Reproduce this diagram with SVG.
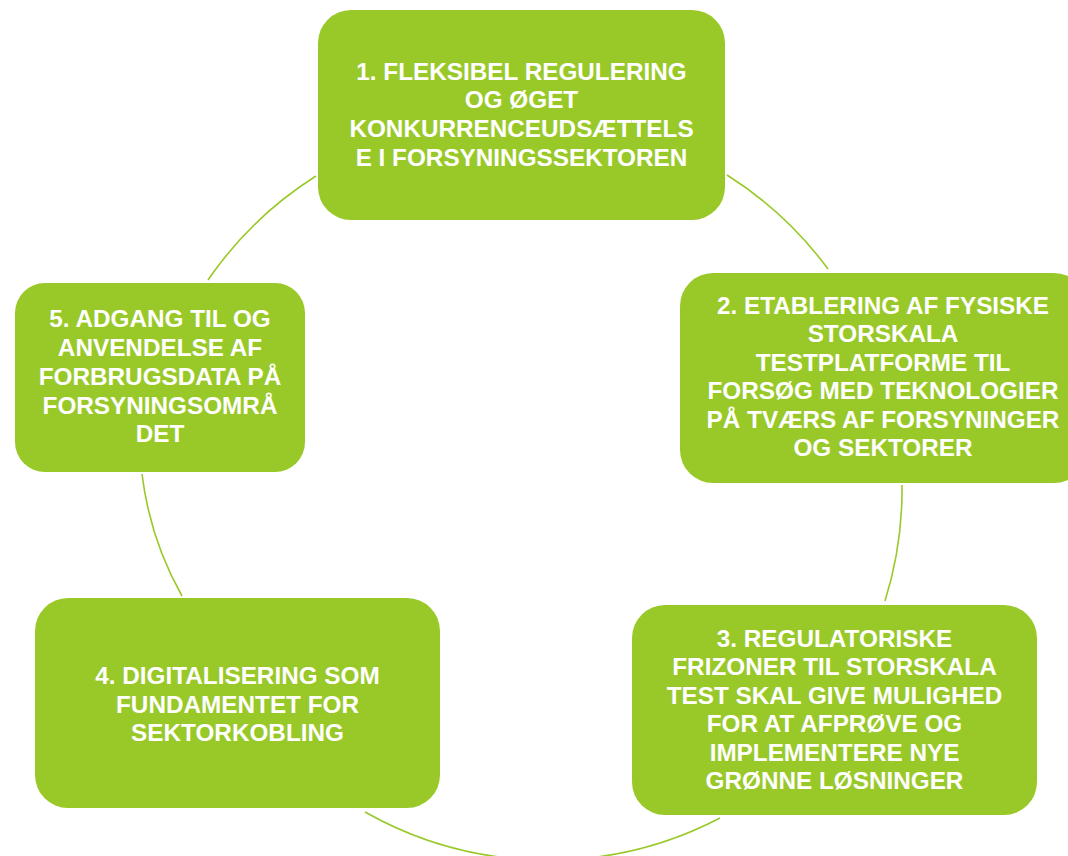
<svg xmlns="http://www.w3.org/2000/svg" width="1068" height="856" viewBox="0 0 1068 856">
<style>
.box{fill:#99C928;}
.t{fill:#FFFFFF;font-family:"Liberation Sans",Arial,sans-serif;font-weight:bold;font-size:24.3px;text-anchor:middle;}
.arc{fill:none;stroke:#99C928;stroke-width:1.6;}
</style>
<rect width="1068" height="856" fill="#FFFFFF"/>
<g id="connectors">
<path class="arc" d="M727,175 A372,372 0 0 1 828,269"/>
<path class="arc" d="M902,485 A372,372 0 0 1 885,601"/>
<path class="arc" d="M720,818 A372,372 0 0 1 365,812"/>
<path class="arc" d="M182,596 A330,330 0 0 1 142,474"/>
<path class="arc" d="M208,280 A372,372 0 0 1 316,176"/>
</g>
<g id="node1">
<rect class="box" x="318" y="10" width="407" height="210" rx="33"/>
<text class="t" x="521.5" y="79.5">1. FLEKSIBEL REGULERING</text>
<text class="t" x="521.5" y="108.2">OG ØGET</text>
<text class="t" x="521.5" y="136.9">KONKURRENCEUDSÆTTELS</text>
<text class="t" x="521.5" y="165.6">E I FORSYNINGSSEKTOREN</text>
</g>
<g id="node2">
<rect class="box" x="680" y="273" width="407" height="210" rx="33"/>
<text class="t" x="883" y="313.5">2. ETABLERING AF FYSISKE</text>
<text class="t" x="883" y="342">STORSKALA</text>
<text class="t" x="883" y="370.5">TESTPLATFORME TIL</text>
<text class="t" x="883" y="399">FORSØG MED TEKNOLOGIER</text>
<text class="t" x="883" y="427.5">PÅ TVÆRS AF FORSYNINGER</text>
<text class="t" x="883" y="456">OG SEKTORER</text>
</g>
<g id="node3">
<rect class="box" x="632" y="605" width="405" height="210" rx="33"/>
<text class="t" x="834.5" y="646.5">3. REGULATORISKE</text>
<text class="t" x="834.5" y="675">FRIZONER TIL STORSKALA</text>
<text class="t" x="834.5" y="703.5">TEST SKAL GIVE MULIGHED</text>
<text class="t" x="834.5" y="732">FOR AT AFPRØVE OG</text>
<text class="t" x="834.5" y="760.5">IMPLEMENTERE NYE</text>
<text class="t" x="834.5" y="789">GRØNNE LØSNINGER</text>
</g>
<g id="node4">
<rect class="box" x="35" y="598" width="405" height="210" rx="33"/>
<text class="t" x="237.5" y="684">4. DIGITALISERING SOM</text>
<text class="t" x="237.5" y="712.5">FUNDAMENTET FOR</text>
<text class="t" x="237.5" y="741">SEKTORKOBLING</text>
</g>
<g id="node5">
<rect class="box" x="15" y="283" width="290" height="189" rx="30"/>
<text class="t" x="160" y="327">5. ADGANG TIL OG</text>
<text class="t" x="160" y="356">ANVENDELSE AF</text>
<text class="t" x="160" y="385">FORBRUGSDATA PÅ</text>
<text class="t" x="160" y="413.5">FORSYNINGSOMRÅ</text>
<text class="t" x="160" y="442">DET</text>
</g>
</svg>
